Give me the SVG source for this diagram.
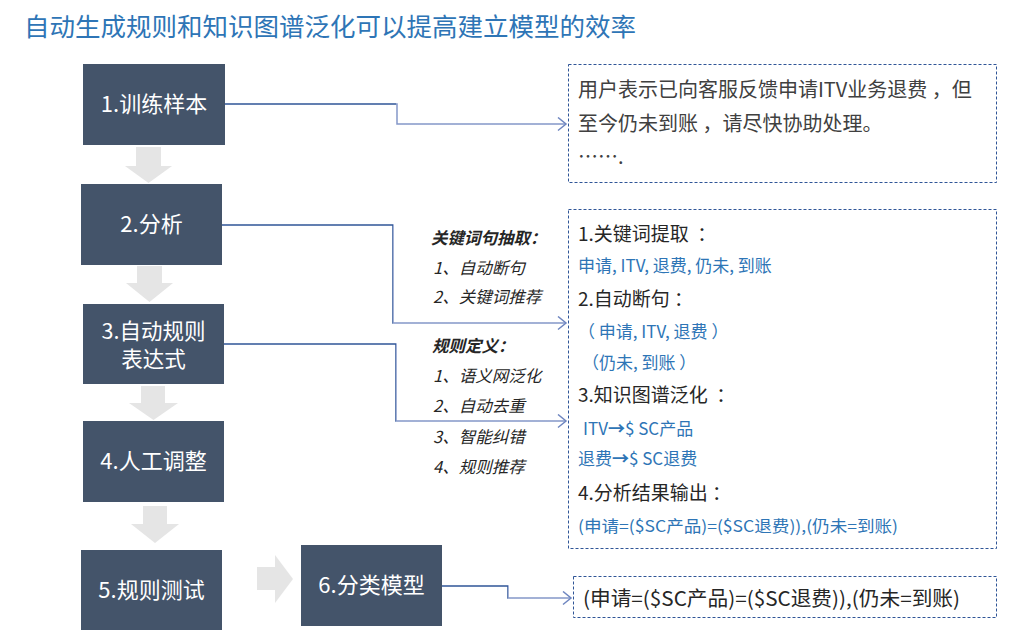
<svg xmlns="http://www.w3.org/2000/svg" width="1033" height="641" viewBox="0 0 1033 641">
<style>
text{font-family:"Noto Sans CJK SC","Noto Sans",sans-serif}
.box{fill:#44546a}
.bt{fill:#ffffff;font-size:22px;text-anchor:middle}
.flow{fill:#e5e5e5}
.dash{fill:#ffffff;stroke:#2f5597;stroke-width:1;stroke-dasharray:3 2}
.con{fill:none;stroke-width:1.5}
.k{fill:#262626;font-size:19px;white-space:pre}
.b{fill:#2e75b6;font-size:17px}
.it{fill:#262626;font-size:16.5px;font-style:italic}
.itb{fill:#262626;font-size:16.5px;font-style:italic;font-weight:bold}
.note{fill:#404040;font-size:20px}
</style>
<defs>
<marker id="arr" markerUnits="userSpaceOnUse" markerWidth="12" markerHeight="16" refX="9" refY="7" orient="auto">
<path d="M1,0.5 L9,7 L1,13.5" fill="none" stroke="#6f86c0" stroke-width="1.5"/>
</marker>
<linearGradient id="g1" gradientUnits="userSpaceOnUse" x1="225" y1="0" x2="568" y2="0">
<stop offset="0" stop-color="#2f5597"/><stop offset="0.5" stop-color="#2f5597"/><stop offset="0.5" stop-color="#8497c8"/><stop offset="1" stop-color="#8497c8"/>
</linearGradient>
<linearGradient id="g2" gradientUnits="userSpaceOnUse" x1="222" y1="0" x2="568" y2="0">
<stop offset="0" stop-color="#2f5597"/><stop offset="0.494" stop-color="#2f5597"/><stop offset="0.494" stop-color="#8497c8"/><stop offset="1" stop-color="#8497c8"/>
</linearGradient>
<linearGradient id="g3" gradientUnits="userSpaceOnUse" x1="224" y1="0" x2="568" y2="0">
<stop offset="0" stop-color="#2f5597"/><stop offset="0.5" stop-color="#2f5597"/><stop offset="0.5" stop-color="#8497c8"/><stop offset="1" stop-color="#8497c8"/>
</linearGradient>
<linearGradient id="g4" gradientUnits="userSpaceOnUse" x1="442" y1="0" x2="573" y2="0">
<stop offset="0" stop-color="#2f5597"/><stop offset="0.504" stop-color="#2f5597"/><stop offset="0.504" stop-color="#8497c8"/><stop offset="1" stop-color="#8497c8"/>
</linearGradient>
</defs>
<rect width="1033" height="641" fill="#ffffff"/>
<text x="24" y="36" style="fill:#2e75b6;font-size:25.5px">自动生成规则和知识图谱泛化可以提高建立模型的效率</text>

<g id="flow-arrows">
<polygon class="flow" points="136,147 161,147 161,166 172,166 148.5,183 125,166 136,166"/>
<polygon class="flow" points="137,266 162,266 162,283 173,283 149.5,302 126,283 137,283"/>
<polygon class="flow" points="141,386 165,386 165,403 178,403 153.5,420 129,403 141,403"/>
<polygon class="flow" points="143,506 167,506 167,524 179,524 155,543 131,524 143,524"/>
<polygon class="flow" points="257,567 275,567 275,555 293,579 275,603 275,590 257,590"/>
</g>

<g id="connectors">
<path class="con" stroke="url(#g1)" d="M225,104 H397 V124 H566" marker-end="url(#arr)"/>
<path class="con" stroke="url(#g2)" d="M222,225 H393 V323 H566" marker-end="url(#arr)"/>
<path class="con" stroke="url(#g3)" d="M224,344 H396 V421 H566" marker-end="url(#arr)"/>
<path class="con" stroke="url(#g4)" d="M442,586 H508 V598 H571" marker-end="url(#arr)"/>
</g>

<g id="n1"><rect class="box" x="83" y="64" width="142" height="81"/><text class="bt" x="154" y="112">1.训练样本</text></g>
<g id="n2"><rect class="box" x="81" y="184" width="141" height="81"/><text class="bt" x="151.5" y="232">2.分析</text></g>
<g id="n3"><rect class="box" x="83" y="304" width="141" height="80"/><text class="bt" x="153.5" y="339" style="font-size:21.5px">3.自动规则</text><text class="bt" x="153.5" y="367" style="font-size:21.5px">表达式</text></g>
<g id="n4"><rect class="box" x="83" y="421" width="141" height="81"/><text class="bt" x="153.5" y="469">4.人工调整</text></g>
<g id="n5"><rect class="box" x="81" y="550" width="141" height="80"/><text class="bt" x="151.5" y="598">5.规则测试</text></g>
<g id="n6"><rect class="box" x="301" y="545" width="141" height="81"/><text class="bt" x="371.5" y="593">6.分类模型</text></g>

<g id="labels">
<text class="itb" x="431" y="244">关键词句抽取：</text>
<text class="it" x="433" y="274">1、自动断句</text>
<text class="it" x="433" y="303">2、关键词推荐</text>
<text class="itb" x="432" y="352">规则定义：</text>
<text class="it" x="433" y="382">1、语义网泛化</text>
<text class="it" x="433" y="412">2、自动去重</text>
<text class="it" x="433" y="443">3、智能纠错</text>
<text class="it" x="433" y="473">4、规则推荐</text>
</g>

<g id="sample">
<rect class="dash" x="568.5" y="64.5" width="428" height="118"/>
<text class="note" x="578" y="97">用户表示已向客服反馈申请ITV业务退费 ，但</text>
<text class="note" x="578" y="131">至今仍未到账 ，请尽快协助处理。</text>
<text class="note" x="578" y="164">…….</text>
</g>

<g id="analysis">
<rect class="dash" x="568.5" y="209.5" width="428" height="339"/>
<text class="k" x="578" y="241">1.关键词提取  ：</text>
<text class="b" x="578" y="272">申请, ITV, 退费, 仍未, 到账</text>
<text class="k" x="578" y="306">2.自动断句 ：</text>
<text class="b" x="578" y="338">（ 申请, ITV, 退费 ）</text>
<text class="b" x="582" y="369">（仍未, 到账 ）</text>
<text class="k" x="578" y="402">3.知识图谱泛化  ：</text>
<text class="b" x="583" y="435">ITV<tspan font-weight="bold">→</tspan>$ SC产品</text>
<text class="b" x="578" y="465">退费<tspan font-weight="bold">→</tspan>$ SC退费</text>
<text class="k" x="578" y="500">4.分析结果输出 ：</text>
<text class="b" x="578" y="532" style="font-size:16px" textLength="320" lengthAdjust="spacingAndGlyphs">(申请=($SC产品)=($SC退费)),(仍未=到账)</text>
</g>

<g id="result">
<rect class="dash" x="573.5" y="576.5" width="423" height="41"/>
<text x="583" y="606" style="fill:#262626;font-size:20px" textLength="377" lengthAdjust="spacingAndGlyphs">(申请=($SC产品)=($SC退费)),(仍未=到账)</text>
</g>
</svg>
